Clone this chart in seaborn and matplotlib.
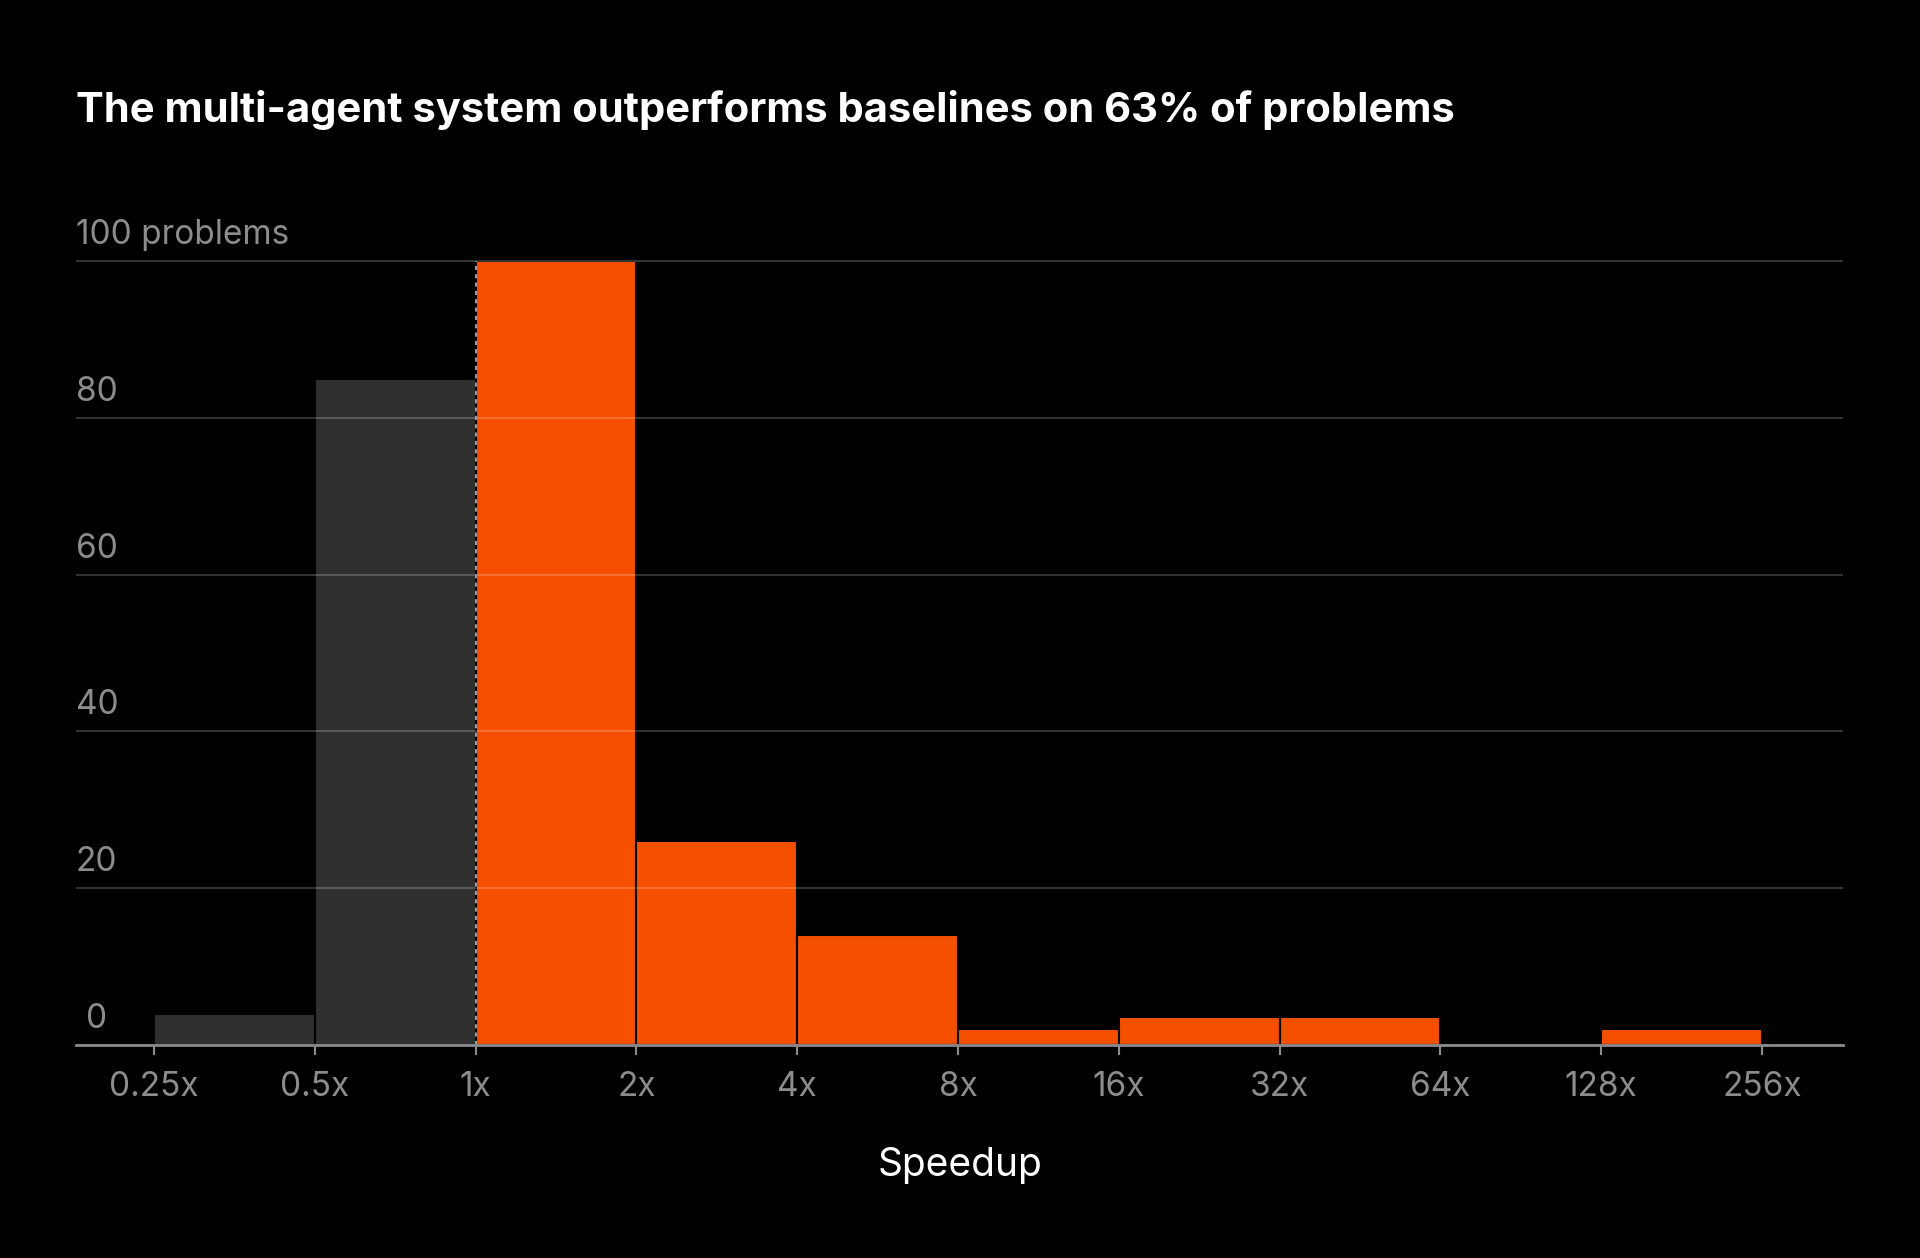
import numpy as np
import pandas as pd
import matplotlib
matplotlib.use("Agg")
import matplotlib.pyplot as plt
import seaborn as sns
from matplotlib.transforms import blended_transform_factory, ScaledTranslation

# ---- data ----
bin_edges = [0.25, 0.5, 1, 2, 4, 8, 16, 32, 64, 128, 256]
counts = [4, 85, 100, 26, 14, 2, 3.6, 3.6, 0, 2]
groups = ["slower", "slower", "faster", "faster", "faster", "faster",
          "faster", "faster", "faster", "faster"]
x_tick_values = [0.25, 0.5, 1, 2, 4, 8, 16, 32, 64, 128, 256]
x_tick_labels = ["0.25x", "0.5x", "1x", "2x", "4x", "8x", "16x", "32x",
                 "64x", "128x", "256x"]
y_tick_values = [0, 20, 40, 60, 80, 100]
y_tick_labels = ["0", "20", "40", "60", "80", "100 problems"]
baseline_speedup = 1
title = "The multi-agent system outperforms baselines on 63% of problems"
x_label = "Speedup"

# ---- style ----
sns.set_theme(style="dark")
plt.rcParams['font.family'] = ['Inter', 'DejaVu Sans']

W, H = 1920, 1258
fig = plt.figure(figsize=(W / 100, H / 100), dpi=100, facecolor="black")
ax_left, ax_right = 76, 1843
y0_px, y100_px = 1045, 261
ymax = 100.3
per_unit = (y0_px - y100_px) / 100
top_px = y0_px - ymax * per_unit
ax = fig.add_axes([ax_left / W, 1 - y0_px / H, (ax_right - ax_left) / W,
                   (y0_px - top_px) / H])
ax.set_facecolor("black")

log_edges = [float(v) for v in np.log2(bin_edges)]
centers = [(a + b) / 2 for a, b in zip(log_edges[:-1], log_edges[1:])]
df = pd.DataFrame({"log_speedup": centers, "count": counts, "group": groups})

sns.histplot(data=df, x="log_speedup", weights="count", bins=log_edges,
             hue="group", hue_order=["slower", "faster"],
             palette={"slower": "#303030", "faster": "#F55000"},
             alpha=1, edgecolor="black", linewidth=1.5, legend=False, ax=ax)

# dotted line at 1x
bx = float(np.log2(baseline_speedup))
ax.plot([bx, bx], [0, 100], linestyle=(0, (2, 2)), color="#9a9a9a",
        linewidth=1.5, zorder=3)

ax.set_xlim(-2.485, 8.504)
ax.set_ylim(0, ymax)

# grid
ax.set_yticks(y_tick_values)
ax.set_yticklabels([])
ax.tick_params(axis="y", length=0)
ax.yaxis.grid(True, color="white", alpha=0.2, linewidth=1.5)
ax.xaxis.grid(False)
ax.set_axisbelow(False)

# y labels above gridlines
trans = blended_transform_factory(ax.transAxes, ax.transData)
for v, lab in zip(y_tick_values, y_tick_labels):
    dx = 10 / 100 if v == 0 else 0
    off = ScaledTranslation(dx, 17 / 100, fig.dpi_scale_trans)
    ax.text(0, v, lab, transform=trans + off, ha="left", va="baseline",
            fontsize=24, color="#8c8c8c")

# x axis
ax.set_xticks(np.log2(x_tick_values))
ax.set_xticklabels(x_tick_labels)
ax.tick_params(axis="x", colors="#8c8c8c", labelcolor="#8c8c8c",
               length=7, width=1.5, direction="out", pad=12, labelsize=24,
               bottom=True)
for s in ["top", "left", "right"]:
    ax.spines[s].set_visible(False)
ax.spines["bottom"].set_color("#8a8a8a")
ax.spines["bottom"].set_linewidth(2)
ax.spines["bottom"].set_zorder(4)

ax.set_ylabel("")
ax.set_xlabel(x_label, fontsize=28, color="white")
ax.xaxis.set_label_coords(0.5, (y0_px - 1166) / (y0_px - top_px))
ax.xaxis.label.set_va("center")

fig.text(76 / W, 1 - 122 / H, title, fontsize=30, fontweight="bold",
         color="white", ha="left", va="baseline")

fig.savefig("out.png", dpi=100, facecolor="black")
